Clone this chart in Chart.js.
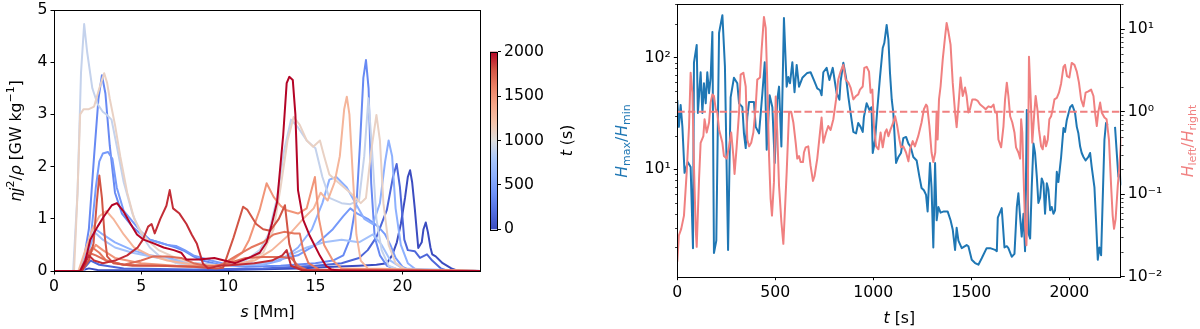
<!DOCTYPE html>
<html>
<head>
<meta charset="utf-8">
<script src="https://cdn.jsdelivr.net/npm/chart.js@4.4.1/dist/chart.umd.min.js"></script>
<style>
  html, body { margin: 0; padding: 0; background: #fff; }
  body { width: 1200px; height: 329px; position: relative; overflow: hidden; }
  canvas { position: absolute; top: 0; }
  #heatChart { left: 0; }
  #cbarChart { left: 480px; }
  #ratioChart { left: 600px; }
</style>
</head>
<body>
<canvas id="heatChart" width="490" height="329"></canvas>
<canvas id="cbarChart" width="120" height="329"></canvas>
<canvas id="ratioChart" width="600" height="329"></canvas>
<script>
const FONT = 'DejaVu Sans';
const FS = 15.7;

// ---- left panel: heating profiles along the loop, one per snapshot time ----
const snapTimes = [0, 150, 350, 450, 600, 750, 900, 1100, 1300, 1500, 1650, 1700, 1800, 1900, 2000];

const prof0000 = [[0,0],[1.5,0],[2.0,0.05],[2.5,0.02],[5,0.01],[10,0.02],[14,0.05],[16,0.08],[17.5,0.1],[18.5,0.12],[19.1,0.15],[19.4,0.3],[19.67,0.55],[19.9,0.9],[20.14,1.4],[20.3,1.8],[20.43,1.93],[20.55,1.7],[20.7,1.2],[20.9,0.44],[21.1,0.55],[21.2,0.8],[21.33,0.93],[21.45,0.75],[21.6,0.45],[21.7,0.32],[21.9,0.28],[22.3,0.15],[22.8,0.05],[23.2,0],[24.5,0]];
const prof0150 = [[0,0],[1.6,0],[2.1,0.2],[2.6,0.12],[4,0.05],[8,0.03],[12,0.05],[15,0.1],[16.5,0.15],[17.5,0.25],[18.0,0.4],[18.5,0.65],[19.1,1.17],[19.45,1.8],[19.66,2.05],[19.85,1.6],[20.1,0.6],[20.3,0.4],[20.7,0.38],[21.0,0.25],[21.4,0.32],[21.7,0.2],[22.2,0.05],[22.6,0],[24.5,0]];
const prof0350 = [[0,0],[1.6,0],[2.0,0.8],[2.3,2.2],[2.55,3.3],[2.75,3.75],[2.95,3.4],[3.2,2.4],[3.5,1.5],[3.9,1.1],[4.5,0.85],[5.0,0.7],[5.5,0.6],[6.0,0.55],[6.5,0.5],[7.0,0.45],[7.5,0.38],[8.0,0.28],[8.5,0.2],[9.5,0.12],[11,0.08],[13,0.1],[15,0.15],[16.0,0.2],[16.6,0.3],[17.0,0.63],[17.37,1.36],[17.56,2.45],[17.75,3.7],[17.9,4.04],[18.05,3.5],[18.2,1.68],[18.4,0.65],[18.7,0.3],[19.1,0.1],[19.8,0.02],[24.5,0]];
const prof0450 = [[0,0],[1.7,0],[2.1,0.6],[2.4,1.6],[2.6,2.1],[2.8,2.25],[3.1,2.28],[3.35,2.15],[3.6,1.6],[4.0,1.15],[4.5,0.95],[5.0,0.75],[5.5,0.6],[6.0,0.55],[6.5,0.5],[7.0,0.48],[7.5,0.4],[8.0,0.3],[9.0,0.2],[10,0.12],[12,0.15],[14,0.3],[15,0.5],[16,0.8],[16.6,1.05],[17.0,1.2],[17.4,1.1],[18.0,1.0],[18.6,0.85],[19.0,0.7],[19.3,0.5],[19.6,0.25],[20.0,0.08],[20.5,0],[24.5,0]];
const prof0600 = [[0,0],[1.6,0],[2.0,0.4],[2.4,0.8],[2.8,0.7],[3.5,0.55],[4.5,0.4],[5.5,0.3],[6.5,0.25],[8,0.15],[10,0.1],[12,0.12],[13,0.2],[14,0.45],[14.8,0.8],[15.4,1.3],[15.8,1.75],[16.2,1.8],[16.8,1.6],[17.3,1.3],[17.8,1.0],[18.3,0.9],[18.7,1.3],[19.0,2.1],[19.2,2.5],[19.4,2.2],[19.6,1.2],[19.9,0.5],[20.3,0.15],[20.8,0.02],[24.5,0]];
const prof0750 = [[0,0],[1.5,0],[1.9,0.5],[2.3,0.75],[2.8,0.6],[3.5,0.45],[4.5,0.35],[6,0.25],[8,0.15],[10,0.1],[12,0.15],[13.5,0.3],[14.5,0.45],[15.5,0.55],[16.5,0.6],[17.5,0.55],[18.3,0.7],[18.8,0.5],[19.3,0.2],[20,0.05],[24.5,0]];
const prof0900 = [[0,0],[1.1,0],[1.35,1.5],[1.55,3.8],[1.73,4.73],[1.9,4.2],[2.2,3.5],[2.5,3.2],[2.8,3.05],[3.0,3.0],[3.3,2.9],[3.6,2.4],[4.0,1.7],[4.5,1.1],[5.0,0.7],[5.5,0.45],[6.0,0.3],[7,0.15],[8,0.1],[10,0.1],[11,0.2],[11.8,0.4],[12.3,0.7],[12.8,1.4],[13.2,2.3],[13.6,2.9],[14.0,2.75],[14.5,2.5],[15.0,2.35],[15.4,1.8],[15.8,1.4],[16.5,1.3],[17.0,1.28],[17.5,1.35],[17.8,2.2],[18.04,3.31],[18.25,2.3],[18.5,1.0],[18.8,0.4],[19.2,0.1],[19.8,0.02],[24.5,0]];
const prof1100 = [[0,0],[1.15,0],[1.35,1.5],[1.5,3.0],[1.7,3.1],[2.0,3.1],[2.3,3.15],[2.6,3.5],[2.88,3.79],[3.05,3.6],[3.2,3.3],[3.5,2.8],[3.8,2.2],[4.2,1.5],[4.6,1.0],[5.0,0.75],[5.5,0.55],[6.0,0.4],[7,0.25],[8,0.15],[9.5,0.1],[11,0.15],[12,0.35],[12.6,0.8],[13.0,1.6],[13.4,2.5],[13.75,2.95],[14.1,2.8],[14.5,2.5],[14.87,2.38],[15.26,2.5],[15.5,2.2],[15.8,1.85],[16.3,1.7],[17.0,1.5],[17.6,1.3],[17.9,1.4],[18.2,2.3],[18.5,2.99],[18.7,2.5],[18.9,1.3],[19.2,0.5],[19.6,0.15],[20.2,0.02],[24.5,0]];
const prof1300 = [[0,0],[1.4,0],[1.8,0.4],[2.2,0.8],[2.6,1.05],[3.0,1.15],[3.4,1.0],[4.0,0.7],[4.6,0.45],[5.5,0.3],[6.5,0.2],[8,0.12],[10,0.1],[11.5,0.2],[12.5,0.4],[13.5,0.7],[14.3,1.0],[14.9,1.2],[15.3,1.5],[15.7,1.35],[16.1,1.7],[16.4,2.2],[16.65,3.1],[16.8,3.34],[16.95,3.0],[17.15,1.8],[17.35,0.7],[17.6,0.2],[18,0.05],[24.5,0]];
const prof1500 = [[0,0],[1.5,0],[2.0,0.3],[2.4,0.5],[2.8,0.4],[3.5,0.25],[5,0.15],[7,0.1],[9,0.08],[10,0.15],[10.8,0.35],[11.2,0.6],[11.8,1.17],[12.2,1.68],[12.6,1.42],[13.0,1.25],[13.3,1.17],[14.0,1.1],[14.5,1.2],[14.97,1.8],[15.2,1.0],[15.5,0.5],[16,0.2],[16.5,0.05],[24.5,0]];
const prof1650 = [[0,0],[1.5,0],[1.9,0.3],[2.2,0.45],[2.6,0.35],[3,0.2],[4,0.12],[6,0.1],[8,0.08],[9.5,0.1],[10.5,0.3],[11.3,0.45],[12,0.55],[12.6,0.7],[13.2,0.75],[13.8,0.72],[14.1,0.72],[14.3,0.4],[14.6,0.15],[15.2,0.03],[24.5,0]];
const prof1700 = [[0,0],[1.6,0],[2.0,0.35],[2.4,0.3],[3,0.2],[4,0.12],[5,0.2],[5.7,0.28],[6.5,0.28],[7.3,0.25],[8,0.15],[9,0.08],[10,0.15],[11,0.25],[12,0.27],[13,0.27],[13.6,0.25],[14,0.1],[14.5,0.02],[24.5,0]];
const prof1800 = [[0,0],[1.6,0],[2.0,0.2],[2.27,0.53],[2.45,1.3],[2.6,1.83],[2.75,1.4],[2.9,0.7],[3.05,0.28],[3.4,0.15],[4.5,0.1],[6,0.1],[8,0.08],[9.3,0.05],[9.7,0.06],[10.3,0.64],[10.85,1.23],[11.1,1.17],[11.6,0.9],[12.0,0.8],[12.4,0.77],[12.9,1.0],[13.25,1.26],[13.5,0.52],[13.9,0.07],[14.5,0],[24.5,0]];
const prof1900 = [[0,0],[1.6,0],[2.0,0.3],[2.3,0.2],[2.8,0.15],[3.5,0.2],[4.2,0.3],[4.8,0.45],[5.1,0.6],[5.4,0.85],[5.6,0.9],[5.78,0.72],[6.1,1.0],[6.45,1.25],[6.64,1.55],[6.83,1.2],[7.2,1.1],[7.6,0.9],[7.9,0.7],[8.2,0.52],[8.55,0.14],[8.85,0.05],[9.5,0.1],[10.5,0.12],[11.5,0.15],[12.5,0.2],[13.1,0.3],[13.35,0.4],[13.6,0.1],[14.2,0.02],[24.5,0]];
const prof2000 = [[0,0],[1.5,0],[1.8,0.2],[2.08,0.6],[2.5,0.85],[2.85,1.04],[3.32,1.26],[3.61,1.3],[3.99,1.14],[4.38,0.91],[4.76,0.7],[5.14,0.6],[5.72,0.53],[6.29,0.45],[6.87,0.4],[7.3,0.35],[7.6,0.22],[8.3,0.22],[9.2,0.25],[10.4,0.15],[11.3,0.27],[11.8,0.35],[12.2,0.55],[12.5,0.9],[12.8,1.32],[13.15,2.6],[13.35,3.6],[13.5,3.72],[13.7,3.66],[13.85,3.0],[14.0,1.55],[14.3,0.98],[14.68,0.67],[15.26,0.29],[15.6,0.1],[15.9,0.03],[16.5,0],[24.5,0]];

const profiles = [prof0000, prof0150, prof0350, prof0450, prof0600, prof0750, prof0900,
                  prof1100, prof1300, prof1500, prof1650, prof1700, prof1800, prof1900, prof2000];

const sTicks = [0, 5, 10, 15, 20];
const qTicks = [0, 1, 2, 3, 4, 5];
const cbarTicks = [0, 500, 1000, 1500, 2000];

// ---- right panel: scale-height ratios vs time, [t, value] ----
const hMaxMin = [[0,41.8],[8,24],[17,37.7],[26,24],[37,9.3],[54,11.6],[68,10.5],[80,1.97],[85,90],[99,130],[105,32],[119,74],[128,32],[136,59],[145,39],[153,74],[162,48],[170,66],[179,170],[187,1.78],[199,2.3],[213,166],[230,240],[243,83],[259,1.9],[272,44],[289,66],[306,59],[315,39],[332,36],[340,21],[349,15.5],[357,29.5],[366,40],[391,40],[400,24],[417,21],[434,48],[446,91],[456,15],[471,46],[485,36],[497,11.4],[510,42],[519,55],[531,16],[544,226],[558,55],[566,67],[575,59],[587,91],[598,49],[609,86],[621,55],[638,66],[663,73],[680,74],[697,63],[714,53],[728,51],[736,46],[745,74],[762,81],[776,63],[793,81],[805,59],[813,48],[827,42],[833,61],[847,90],[861,66],[873,44],[884,32],[898,21.6],[912,21],[923,26],[935,24],[946,21.6],[952,29.5],[966,39],[980,34],[991,36],[997,14],[1009,18.4],[1020,34],[1034,67],[1048,122],[1056,135],[1068,196],[1077,144],[1085,73],[1094,42],[1102,32],[1116,11.4],[1128,12.9],[1141,14],[1153,19],[1167,19.5],[1179,17],[1190,16],[1204,12.9],[1221,12],[1235,8.6],[1246,6.8],[1258,6.5],[1269,5.9],[1277,4.2],[1289,11.4],[1297,6.9],[1306,2.0],[1315,11.4],[1323,3.5],[1332,4.6],[1343,4.1],[1360,4.2],[1379,4.2],[1394,3.5],[1405,2.9],[1417,1.9],[1425,3.0],[1434,2.3],[1451,1.97],[1476,2.1],[1485,2.05],[1502,1.55],[1519,1.45],[1536,1.4],[1553,1.6],[1578,1.97],[1596,1.97],[1621,1.9],[1630,1.85],[1635,3.7],[1655,4.5],[1669,2.0],[1681,2.05],[1689,1.97],[1706,1.65],[1720,1.75],[1732,4.6],[1740,6.1],[1749,3.7],[1757,2.5],[1766,4.0],[1774,1.85],[1783,34],[1791,2.7],[1800,2.4],[1808,6.9],[1817,17],[1825,14],[1834,8.6],[1842,5.0],[1851,5.6],[1859,8.3],[1868,7.5],[1876,4.0],[1885,7.5],[1893,6.6],[1902,4.3],[1910,4.6],[1919,4.0],[1927,4.3],[1936,9.5],[1944,7.7],[1958,12.9],[1970,23.4],[1978,21.6],[1987,27.7],[2004,36],[2015,37.7],[2029,32],[2038,24],[2046,21],[2055,16],[2063,14],[2072,12.9],[2083,12],[2097,12.9],[2106,14],[2114,10.5],[2128,6.9],[2136,3.5],[2145,1.55],[2153,2.0],[2162,1.7],[2170,5.3],[2179,18.4],[2187,26],[2196,25],[2212,null],[2233,24],[2250,8.6],[2258,9.0],[2265,7.2]];

const hLeftRight = [[0,0.0152],[8,0.0316],[20,0.038],[34,0.055],[48,0.185],[60,0.67],[68,2.97],[77,1.71],[85,0.22],[94,0.038],[99,0.023],[111,0.153],[119,0.42],[133,0.505],[139,0.81],[150,0.56],[162,0.74],[170,1.29],[179,1.62],[187,1.55],[196,1.07],[204,0.98],[213,0.61],[230,0.42],[238,0.29],[252,0.27],[264,0.38],[275,0.56],[286,0.29],[292,0.176],[303,0.38],[315,0.98],[323,2.81],[337,2.97],[349,2.02],[357,0.46],[366,0.38],[377,0.42],[388,0.56],[400,1.16],[408,2.45],[422,2.6],[430,5.6],[442,14.1],[451,10.4],[459,2.25],[468,0.29],[476,0.088],[483,0.055],[493,0.14],[502,1.53],[510,0.56],[519,0.126],[531,0.046],[541,0.025],[547,0.05],[558,0.185],[570,0.98],[581,1.0],[592,0.74],[604,0.42],[612,0.27],[621,0.29],[629,0.245],[641,0.245],[646,0.32],[655,0.37],[668,0.38],[680,0.22],[692,0.145],[700,0.165],[714,0.27],[728,0.56],[736,0.85],[745,0.42],[759,0.56],[770,0.67],[782,0.6],[796,0.81],[810,1.41],[821,2.45],[833,3.06],[847,3.7],[859,2.45],[873,2.25],[884,1.96],[898,1.41],[912,1.55],[923,1.62],[932,1.85],[946,2.02],[954,3.4],[966,3.5],[978,3.06],[986,1.7],[995,1.85],[1003,0.67],[1014,0.38],[1026,0.35],[1037,0.56],[1048,0.37],[1060,0.56],[1068,0.61],[1077,0.505],[1088,0.61],[1099,0.71],[1111,0.88],[1122,0.67],[1133,0.46],[1141,0.37],[1153,0.38],[1167,0.32],[1179,0.25],[1187,0.35],[1201,0.44],[1212,0.38],[1229,0.505],[1246,0.74],[1258,1.07],[1269,1.22],[1275,1.16],[1286,0.67],[1297,0.32],[1306,0.245],[1316,0.32],[1323,1.0],[1328,0.46],[1335,1.41],[1343,2.02],[1354,4.27],[1366,8.1],[1374,11.9],[1383,9.3],[1394,6.5],[1405,2.25],[1417,0.98],[1425,0.65],[1434,1.16],[1445,2.6],[1456,1.55],[1468,1.96],[1476,1.55],[1485,0.98],[1493,1.07],[1505,1.41],[1519,1.41],[1533,1.35],[1545,1.22],[1562,1.13],[1573,1.07],[1587,1.16],[1601,1.13],[1613,1.22],[1621,0.98],[1630,0.98],[1638,0.46],[1652,0.37],[1664,0.67],[1672,1.41],[1681,2.25],[1689,1.55],[1698,0.88],[1709,0.74],[1720,0.56],[1728,0.37],[1740,0.32],[1749,0.27],[1754,0.81],[1760,0.56],[1767,0.153],[1774,0.042],[1781,0.024],[1788,0.088],[1794,4.65],[1803,1.41],[1811,0.42],[1820,0.88],[1828,1.55],[1837,1.07],[1845,0.61],[1856,0.38],[1864,0.35],[1873,0.505],[1881,0.38],[1890,0.46],[1898,0.81],[1907,0.88],[1915,1.07],[1924,1.41],[1936,1.47],[1947,1.7],[1958,2.2],[1970,3.5],[1978,3.7],[1988,2.7],[2000,2.6],[2012,3.9],[2026,3.7],[2038,3.06],[2049,2.25],[2060,1.41],[2072,1.16],[2083,1.7],[2097,1.76],[2111,1.85],[2123,1.55],[2131,0.98],[2140,0.67],[2148,1.0],[2157,1.29],[2165,0.98],[2179,0.85],[2190,0.81],[2202,0.46],[2213,0.126],[2221,0.055],[2228,0.038],[2236,0.05],[2247,0.126],[2253,0.185],[2262,0.38],[2265,0.5]];

const refLevel = 1;
const tMax = 2265;
const tTicks = [0, 500, 1000, 1500, 2000];
const leftDecades = [10, 100];
const rightDecades = [0.01, 0.1, 1, 10];

// coolwarm colormap, sampled
const coolwarmStops = [
    [0.0, 59, 76, 192], [0.1, 83, 111, 225], [0.2, 110, 146, 249], [0.3, 141, 176, 254],
    [0.4, 170, 199, 250], [0.5, 221, 221, 221], [0.6, 244, 196, 171], [0.7, 246, 167, 137],
    [0.8, 235, 130, 102], [0.9, 210, 85, 69], [1.0, 180, 4, 38]
];

function coolwarm(f) {
    f = Math.min(1, Math.max(0, f));
    for (let i = 1; i < coolwarmStops.length; i++) {
        const a = coolwarmStops[i - 1], b = coolwarmStops[i];
        if (f <= b[0]) {
            const k = (f - a[0]) / (b[0] - a[0]);
            const c = [1, 2, 3].map(j => Math.round(a[j] + k * (b[j] - a[j])));
            return `rgb(${c[0]},${c[1]},${c[2]})`;
        }
    }
    return 'rgb(180,4,38)';
}

const supChars = { '-': '⁻', '0': '⁰', '1': '¹', '2': '²', '3': '³', '4': '⁴', '5': '⁵', '6': '⁶', '7': '⁷', '8': '⁸', '9': '⁹' };
function isDecade(v) {
    const l = Math.log10(v);
    return Math.abs(l - Math.round(l)) < 1e-9;
}
function powLabel(v) {
    const e = Math.round(Math.log10(v));
    return '10' + String(e).split('').map(c => supChars[c]).join('');
}
function logTicks(min, max) {
    const out = [];
    for (let e = Math.floor(Math.log10(min)); e <= Math.ceil(Math.log10(max)); e++) {
        for (let k = 1; k <= 9; k++) {
            const v = k * Math.pow(10, e);
            if (v >= min * 0.9999 && v <= max * 1.0001) out.push({ value: v });
        }
    }
    return out;
}

// text with italic / sub / sup pieces, centred at (x, y)
function drawRich(ctx, parts, x, y, rot, color) {
    ctx.save();
    ctx.translate(x, y);
    ctx.rotate(rot);
    ctx.fillStyle = color;
    ctx.textBaseline = 'alphabetic';
    const fontOf = p => `${p.it ? 'italic ' : ''}${(p.sub || p.sup) ? FS * 0.7 : FS}px "${FONT}"`;
    let w = 0;
    parts.forEach(p => { ctx.font = fontOf(p); w += ctx.measureText(p.t).width; });
    let cx = -w / 2;
    parts.forEach(p => {
        ctx.font = fontOf(p);
        const dy = p.sup ? -FS * 0.4 : p.sub ? FS * 0.22 : 0;
        ctx.fillText(p.t, cx, FS * 0.36 + dy);
        cx += ctx.measureText(p.t).width;
    });
    ctx.restore();
}

function labelsPlugin(items) {
    return {
        id: 'axisLabels',
        afterDraw(chart) {
            items.forEach(it => drawRich(chart.ctx, it.parts, it.x, it.y, it.rot, it.color || '#000'));
        }
    };
}

const framePlugin = {
    id: 'frame',
    afterDraw(chart) {
        const a = chart.chartArea, ctx = chart.ctx;
        ctx.save();
        ctx.strokeStyle = '#000';
        ctx.lineWidth = 1;
        ctx.strokeRect(Math.round(a.left) + 0.5, Math.round(a.top) + 0.5,
                       Math.round(a.right - a.left) - 1, Math.round(a.bottom - a.top));
        ctx.restore();
    }
};

function fixSize(prop, size) {
    return sc => {
        sc[prop] = size;
        sc.paddingTop = 0; sc.paddingBottom = 0; sc.paddingLeft = 0; sc.paddingRight = 0;
    };
}

const tickFont = { family: FONT, size: FS };
const gridOpts = { drawOnChartArea: false, tickLength: 3.5, tickColor: '#000', tickWidth: 1 };

// ---------- left panel ----------
const heatSets = profiles.map((pts, i) => ({
    data: pts.map(([s, q]) => ({ x: s, y: q })),
    borderColor: coolwarm(snapTimes[i] / 2000),
    borderWidth: 2,
    borderJoinStyle: 'round',
    pointRadius: 0,
    tension: 0,
    fill: false,
    clip: 0,
    order: profiles.length - i
}));

new Chart(document.getElementById('heatChart'), {
    type: 'line',
    data: { datasets: heatSets },
    options: {
        responsive: false,
        animation: false,
        events: [],
        layout: { padding: { left: 0, top: 10, right: 9, bottom: 0 } },
        plugins: { legend: { display: false }, tooltip: { enabled: false } },
        scales: {
            x: {
                type: 'linear', min: 0, max: 24.5,
                afterBuildTicks: sc => { sc.ticks = sTicks.map(v => ({ value: v })); },
                afterFit: fixSize('height', 58),
                ticks: { color: '#000', font: tickFont, padding: 3, maxRotation: 0, autoSkip: false, callback: v => String(v) },
                grid: gridOpts,
                border: { display: false }
            },
            y: {
                type: 'linear', min: 0, max: 5,
                afterBuildTicks: sc => { sc.ticks = qTicks.map(v => ({ value: v })); },
                afterFit: fixSize('width', 54),
                ticks: { color: '#000', font: tickFont, padding: 3, autoSkip: false, callback: v => String(v) },
                grid: gridOpts,
                border: { display: false }
            }
        }
    },
    plugins: [framePlugin, labelsPlugin([
        { parts: [{ t: 'η', it: true }, { t: 'j', it: true }, { t: '2', sup: true }, { t: '/' }, { t: 'ρ', it: true },
                  { t: ' [GW kg' }, { t: '−1', sup: true }, { t: ']' }], x: 15, y: 141, rot: -Math.PI / 2 },
        { parts: [{ t: 's', it: true }, { t: ' [Mm]' }], x: 267.5, y: 311, rot: 0 }
    ])]
});

// ---------- colour bar ----------
const gradientPlugin = {
    id: 'cbarGradient',
    beforeDraw(chart) {
        const a = chart.chartArea, ctx = chart.ctx;
        const g = ctx.createLinearGradient(0, a.bottom, 0, a.top);
        coolwarmStops.forEach(s => g.addColorStop(s[0], `rgb(${s[1]},${s[2]},${s[3]})`));
        ctx.save();
        ctx.fillStyle = g;
        ctx.fillRect(a.left, a.top, a.right - a.left, a.bottom - a.top);
        ctx.restore();
    }
};

new Chart(document.getElementById('cbarChart'), {
    type: 'line',
    data: { datasets: [] },
    options: {
        responsive: false,
        animation: false,
        events: [],
        layout: { padding: { left: 10, top: 51.7, right: 0, bottom: 99.7 } },
        plugins: { legend: { display: false }, tooltip: { enabled: false } },
        scales: {
            x: { type: 'linear', min: 0, max: 1, display: false },
            y: {
                type: 'linear', position: 'right', min: 0, max: 2000,
                afterBuildTicks: sc => { sc.ticks = cbarTicks.map(v => ({ value: v })); },
                afterFit: fixSize('width', 102.5),
                ticks: { color: '#000', font: tickFont, padding: 3, autoSkip: false, callback: v => String(v) },
                grid: gridOpts,
                border: { display: false }
            }
        }
    },
    plugins: [gradientPlugin, framePlugin, labelsPlugin([
        { parts: [{ t: 't', it: true }, { t: ' (s)' }], x: 86, y: 140.5, rot: -Math.PI / 2 }
    ])]
});

// ---------- right panel ----------
const minorTicksPlugin = {
    id: 'minorTicks',
    afterDraw(chart) {
        const ctx = chart.ctx, a = chart.chartArea;
        ctx.save();
        ctx.strokeStyle = '#000';
        ctx.lineWidth = 0.8;
        ['yL', 'yR'].forEach(id => {
            const sc = chart.scales[id];
            const x0 = id === 'yL' ? a.left : a.right;
            const dir = id === 'yL' ? -1 : 1;
            sc.ticks.forEach(t => {
                if (isDecade(t.value)) return;
                const y = Math.round(sc.getPixelForValue(t.value)) + 0.5;
                ctx.beginPath();
                ctx.moveTo(x0, y);
                ctx.lineTo(x0 + dir * 2.2, y);
                ctx.stroke();
            });
        });
        ctx.restore();
    }
};

const yLMin = 1.094, yLMax = 302;
const yRMin = 0.01, yRMax = 20.2;

const majorOnly = ctx => (ctx.tick && isDecade(ctx.tick.value)) ? '#000' : 'rgba(0,0,0,0)';

new Chart(document.getElementById('ratioChart'), {
    type: 'line',
    data: {
        datasets: [
            {
                data: hLeftRight.map(([t, v]) => ({ x: t, y: v })),
                yAxisID: 'yR',
                borderColor: '#f08080',
                borderWidth: 2,
                borderJoinStyle: 'round',
                pointRadius: 0,
                tension: 0,
                clip: 0,
                order: 1
            },
            {
                data: [{ x: 0, y: refLevel }, { x: tMax, y: refLevel }],
                yAxisID: 'yR',
                borderColor: '#f08080',
                borderWidth: 2,
                borderDash: [7.4, 3.2],
                pointRadius: 0,
                clip: 0,
                order: 2
            },
            {
                data: hMaxMin.map(([t, v]) => ({ x: t, y: v })),
                yAxisID: 'yL',
                borderColor: '#1f77b4',
                borderWidth: 2,
                borderJoinStyle: 'round',
                pointRadius: 0,
                tension: 0,
                spanGaps: false,
                clip: 0,
                order: 3
            }
        ]
    },
    options: {
        responsive: false,
        animation: false,
        events: [],
        layout: { padding: { left: 0, top: 4, right: 0, bottom: 0 } },
        plugins: { legend: { display: false }, tooltip: { enabled: false } },
        scales: {
            x: {
                type: 'linear', min: 0, max: tMax,
                afterBuildTicks: sc => { sc.ticks = tTicks.map(v => ({ value: v })); },
                afterFit: fixSize('height', 52.3),
                ticks: { color: '#000', font: tickFont, padding: 3, maxRotation: 0, autoSkip: false, callback: v => String(v) },
                grid: gridOpts,
                border: { display: false }
            },
            yL: {
                type: 'logarithmic', position: 'left', min: yLMin, max: yLMax,
                afterBuildTicks: sc => { sc.ticks = logTicks(yLMin, yLMax); },
                afterFit: fixSize('width', 77.3),
                ticks: { color: '#000', font: tickFont, padding: 3, autoSkip: false,
                         callback: v => leftDecades.some(d => Math.abs(d - v) / d < 1e-6) ? powLabel(v) : '' },
                grid: { drawOnChartArea: false, tickLength: 3.5, tickWidth: 1, tickColor: majorOnly },
                border: { display: false }
            },
            yR: {
                type: 'logarithmic', position: 'right', min: yRMin, max: yRMax,
                afterBuildTicks: sc => { sc.ticks = logTicks(yRMin, yRMax); },
                afterFit: fixSize('width', 78.7),
                ticks: { color: '#000', font: tickFont, padding: 3, autoSkip: false,
                         callback: v => rightDecades.some(d => Math.abs(d - v) / d < 1e-6) ? powLabel(v) : '' },
                grid: { drawOnChartArea: false, tickLength: 3.5, tickWidth: 1, tickColor: majorOnly },
                border: { display: false }
            }
        }
    },
    plugins: [framePlugin, minorTicksPlugin, labelsPlugin([
        { parts: [{ t: 'H', it: true }, { t: 'max', sub: true }, { t: '/' }, { t: 'H', it: true }, { t: 'min', sub: true }],
          x: 21, y: 141, rot: -Math.PI / 2, color: '#1f77b4' },
        { parts: [{ t: 'H', it: true }, { t: 'left', sub: true }, { t: '/' }, { t: 'H', it: true }, { t: 'right', sub: true }],
          x: 587, y: 141, rot: -Math.PI / 2, color: '#f08080' },
        { parts: [{ t: 't', it: true }, { t: ' [s]' }], x: 299.3, y: 317, rot: 0 }
    ])]
});
</script>
</body>
</html>
